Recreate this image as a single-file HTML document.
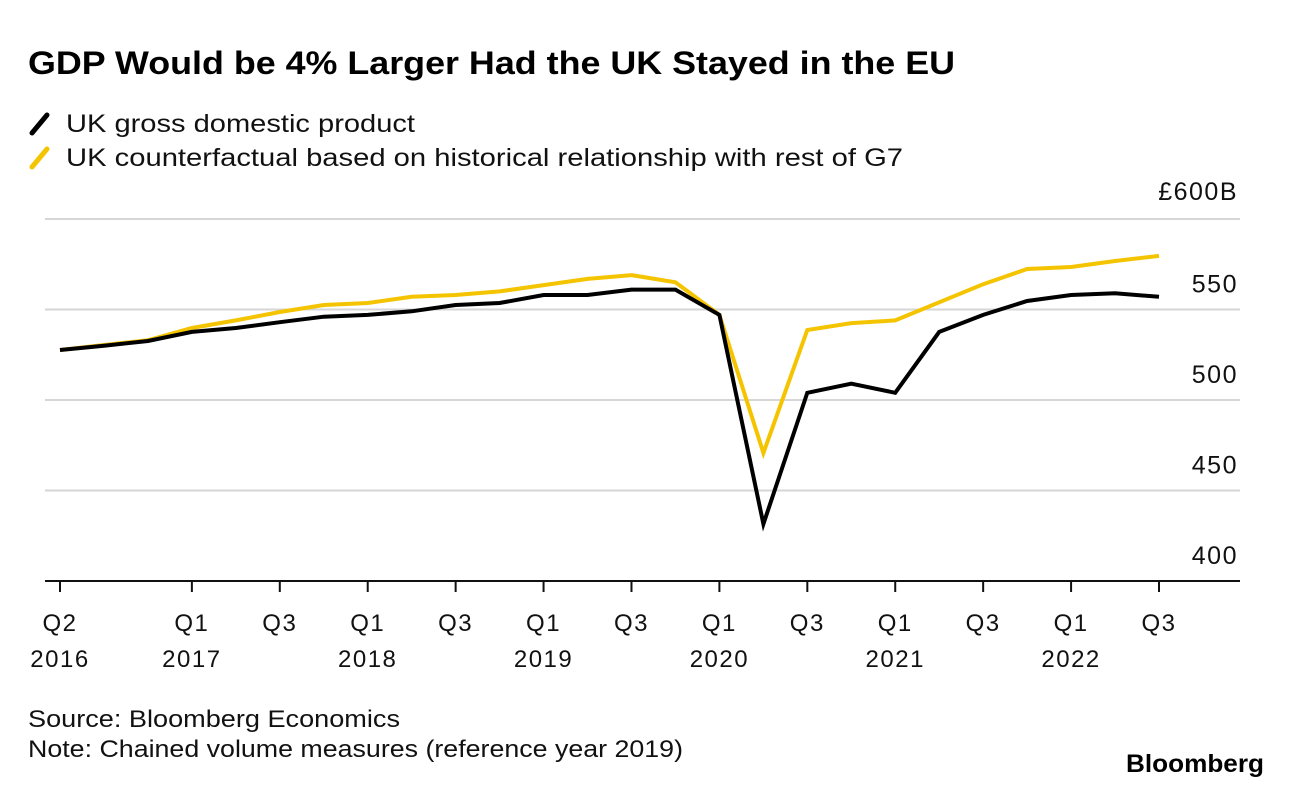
<!DOCTYPE html>
<html><head><meta charset="utf-8"><style>
body{margin:0;background:#fff;font-family:"Liberation Sans",Arial,sans-serif;}
svg{display:block}
</style></head><body>
<svg id="chart" width="1292" height="788" viewBox="0 0 1292 788">
<text x="28" y="74" font-size="32" font-weight="bold" fill="#000" textLength="927" lengthAdjust="spacingAndGlyphs">GDP Would be 4% Larger Had the UK Stayed in the EU</text>
<g>
<line x1="32" y1="133" x2="47" y2="115" stroke="#000" stroke-width="5" stroke-linecap="round"/>
<text x="66" y="132" font-size="25" fill="#111" textLength="349" lengthAdjust="spacingAndGlyphs">UK gross domestic product</text>
<line x1="32" y1="167" x2="47" y2="149" stroke="#f5c400" stroke-width="5" stroke-linecap="round"/>
<text x="66" y="166" font-size="25" fill="#111" textLength="837" lengthAdjust="spacingAndGlyphs">UK counterfactual based on historical relationship with rest of G7</text>
</g>
<g id="grid"></g><g id="ticks"></g><g id="lines"></g>
<text x="28" y="727" font-size="24" fill="#111" textLength="372" lengthAdjust="spacingAndGlyphs">Source: Bloomberg Economics</text>
<text x="28" y="757" font-size="24" fill="#111" textLength="655" lengthAdjust="spacingAndGlyphs">Note: Chained volume measures (reference year 2019)</text>
<text x="1126" y="772" font-size="25" font-weight="bold" fill="#000" textLength="138" lengthAdjust="spacingAndGlyphs">Bloomberg</text>
</svg>
<script>
const gdp=[527.6,530,532.6,537.6,539.8,543,546,547,549,552.5,553.6,558,558,561,561,547,431.5,504,509,504,537.6,547,554.7,558,559,557];
const counterfactual=[527.6,530.4,533,539.8,544,548.6,552.5,553.6,557,558,560,563.5,566.9,569,565,547,470.7,538.7,542.5,544,554,564,572.4,573.5,576.8,579.6];
const yTicks=[400,450,500,550,600];
const yTickLabels=["400","450","500","550","£600B"];
const xTickIdx=[0,3,5,7,9,11,13,15,17,19,21,23,25];
const xTickTop=["Q2","Q1","Q3","Q1","Q3","Q1","Q3","Q1","Q3","Q1","Q3","Q1","Q3"];
const xTickBottom=["2016","2017","","2018","","2019","","2020","","2021","","2022",""];
const NS="http://www.w3.org/2000/svg";
const X=i=>60+i*(1159-60)/25;
const Y=v=>581-(v-400)*1.81;
function mk(tag,attrs,parent,txt){const e=document.createElementNS(NS,tag);for(const k in attrs)e.setAttribute(k,attrs[k]);if(txt!==undefined)e.textContent=txt;document.getElementById(parent).appendChild(e);return e;}
yTicks.forEach((v,i)=>{
 if(v>400){const g=mk('line',{x1:45,x2:1240,y1:Y(v),y2:Y(v),stroke:'#d6d6d6','stroke-width':2},'grid');
 
 }
 const t=mk('text',{x:1238,y:v===600?Y(v)-19:Y(v)-17,'font-size':25,'text-anchor':'end',fill:'#111','letter-spacing':1.5},'grid',yTickLabels[i]);
 
 
});
const ax=mk('line',{x1:45,x2:1240,y1:581,y2:581,stroke:'#111','stroke-width':2},'ticks');


xTickIdx.forEach((idx,i)=>{
 const tk=mk('line',{x1:X(idx),x2:X(idx),y1:581,y2:592,stroke:'#111','stroke-width':2},'ticks');
 
 
 const t1=mk('text',{x:X(idx),y:631,'font-size':24,'text-anchor':'middle',fill:'#111','letter-spacing':1.5},'ticks',xTickTop[i]);
 
 
 if(xTickBottom[i]){const t2=mk('text',{x:X(idx),y:667,'font-size':24,'text-anchor':'middle',fill:'#111','letter-spacing':1.5},'ticks',xTickBottom[i]);
 
 }
});
function path(arr){return arr.map((v,i)=>(i?'L':'M')+X(i).toFixed(1)+' '+Y(v).toFixed(1)).join(' ');}
const p1=mk('path',{d:path(counterfactual),fill:'none',stroke:'#f5c400','stroke-width':4,'stroke-linejoin':'miter'},'lines');


const p2=mk('path',{d:path(gdp),fill:'none',stroke:'#000','stroke-width':4,'stroke-linejoin':'miter'},'lines');


</script>
</body></html>
